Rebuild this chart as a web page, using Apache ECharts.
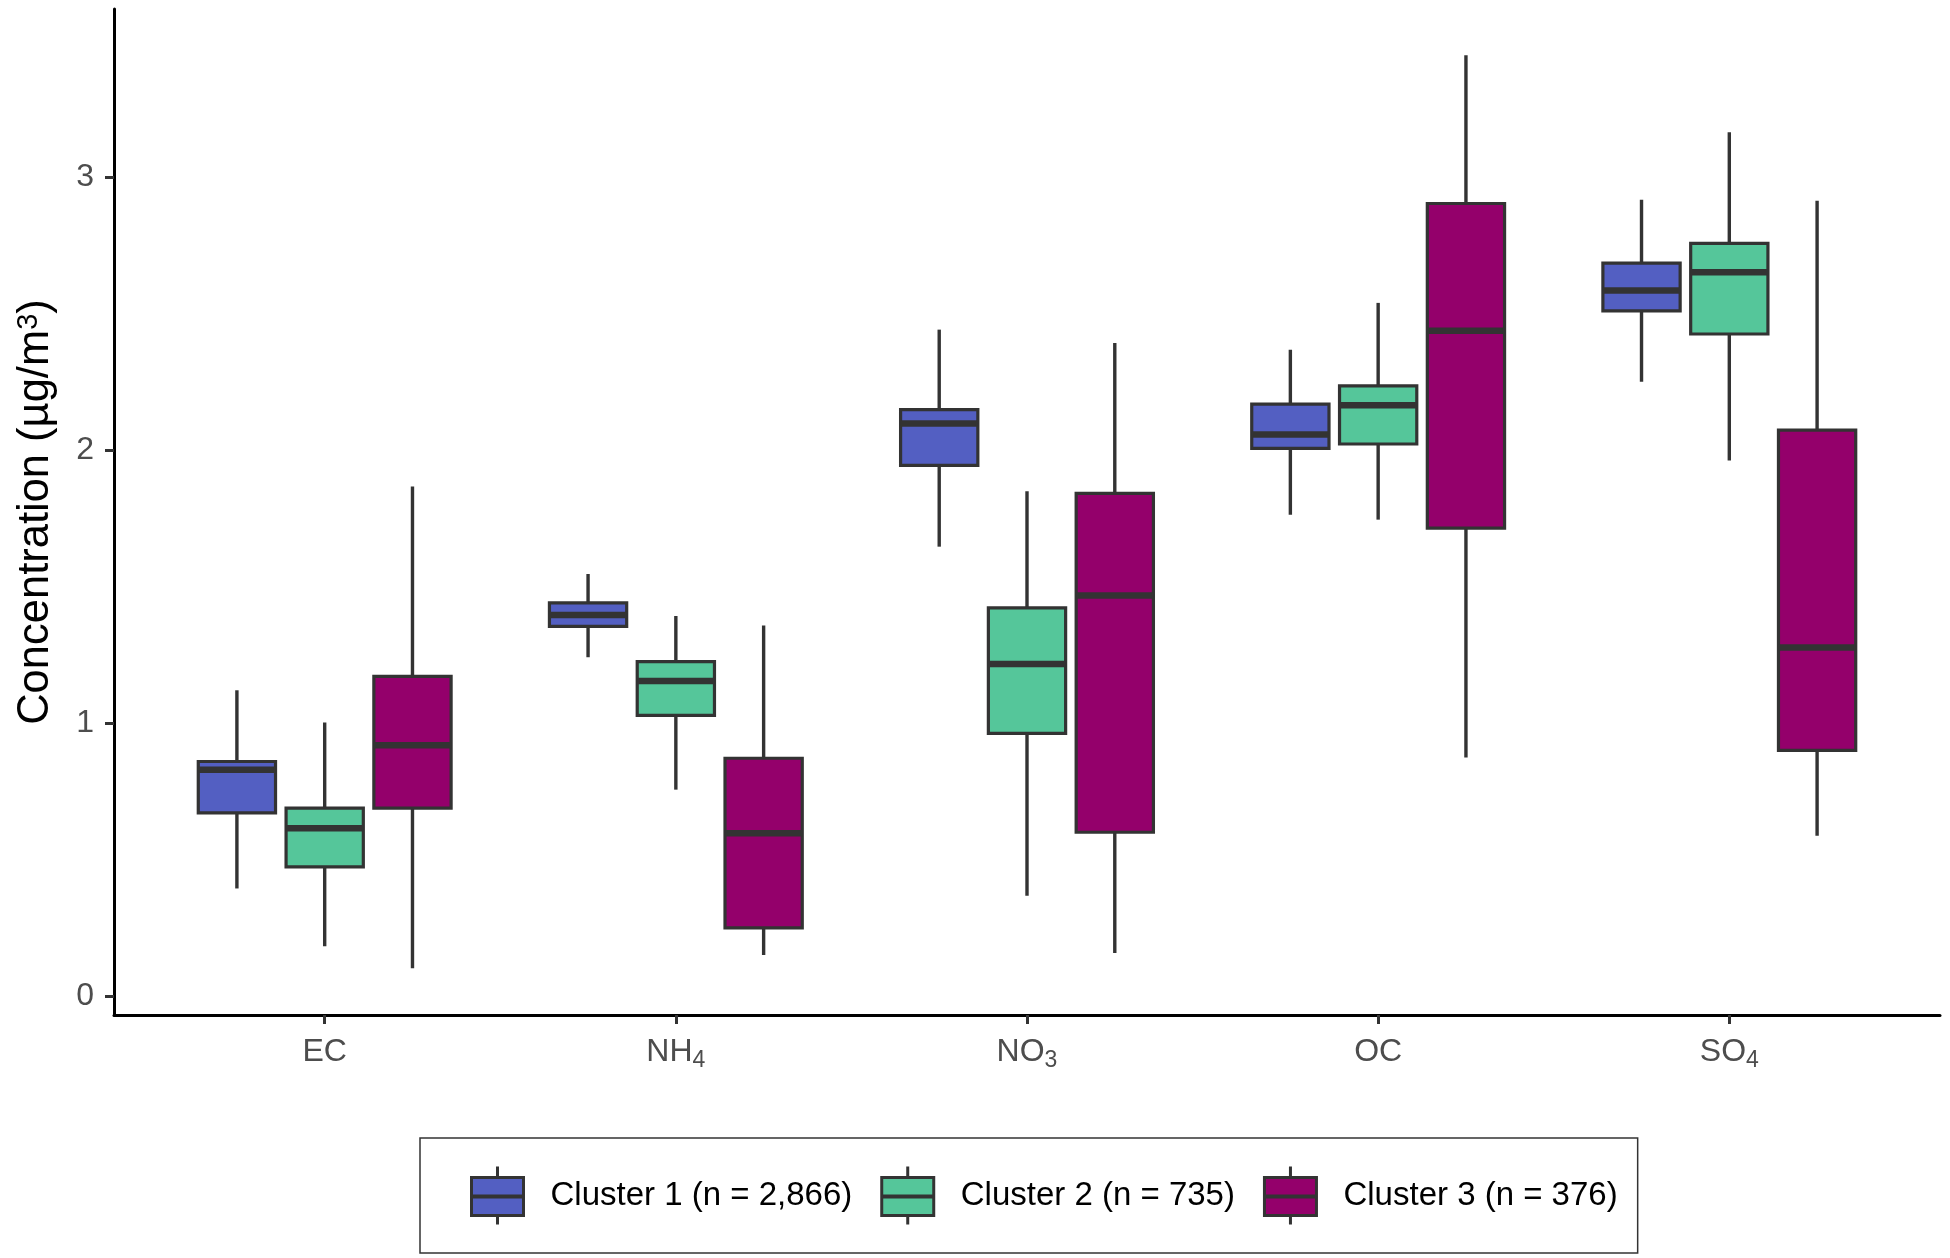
<!DOCTYPE html>
<html>
<head>
<meta charset="utf-8">
<script src="https://cdn.jsdelivr.net/npm/echarts@6/dist/echarts.min.js"></script>
<style>
  html, body { margin: 0; padding: 0; background: #fff; }
  #chart { width: 1950px; height: 1258px; }
</style>
</head>
<body>
<div id="chart"></div>
<script>
// ---- data ----
const categories = ['EC', 'NH4', 'NO3', 'OC', 'SO4'];
const seriesNames = ['Cluster 1 (n = 2,866)', 'Cluster 2 (n = 735)', 'Cluster 3 (n = 376)'];
const yTicks = [0, 1, 2, 3];

// each row: [lower whisker, Q1, median, Q3, upper whisker], one row per category
const cluster1 = [
  [0.396, 0.673, 0.831, 0.861, 1.122],
  [1.243, 1.356, 1.398, 1.442, 1.548],
  [1.648, 1.946, 2.099, 2.150, 2.443],
  [1.765, 2.008, 2.059, 2.170, 2.369],
  [2.252, 2.512, 2.586, 2.687, 2.919]
];
const cluster2 = [
  [0.184, 0.475, 0.617, 0.690, 1.004],
  [0.758, 1.030, 1.156, 1.227, 1.394],
  [0.369, 0.964, 1.218, 1.424, 1.851],
  [1.747, 2.024, 2.166, 2.237, 2.541],
  [1.964, 2.427, 2.653, 2.759, 3.166]
];
const cluster3 = [
  [0.104, 0.690, 0.921, 1.173, 1.868],
  [0.152, 0.252, 0.598, 0.873, 1.359],
  [0.160, 0.602, 1.469, 1.843, 2.394],
  [0.876, 1.716, 2.439, 2.905, 3.448],
  [0.589, 0.902, 1.279, 2.075, 2.915]
];

// ---- styling ----
const colors = ['#535FC2', '#55C69A', '#94006B'];
const FONT = "'Liberation Sans', Arial, Helvetica, sans-serif";
const INK = '#333333';
const DODGE = [-0.25, 0, 0.25];   // offset of each cluster inside a category (axis units)
const BOX_W = 0.22;               // box width (axis units)

const clusters = [cluster1, cluster2, cluster3];

function toRich(name) {
  const m = name.match(/^([A-Za-z]+)(\d*)$/);
  if (m && m[2]) return '{n|' + m[1] + '}{s|' + m[2] + '}';
  return '{n|' + name + '}';
}

function makeRender(idx) {
  return function (params, api) {
    const x = api.value(0);
    const lo = api.coord([x, api.value(1)]);
    const q1 = api.coord([x, api.value(2)]);
    const md = api.coord([x, api.value(3)]);
    const q3 = api.coord([x, api.value(4)]);
    const hi = api.coord([x, api.value(5)]);
    const unit = api.size([1, 0])[0];
    const cx = lo[0] + DODGE[idx] * unit;
    const hw = BOX_W * unit / 2;
    return {
      type: 'group',
      children: [
        { type: 'line', shape: { x1: cx, y1: hi[1], x2: cx, y2: lo[1] },
          style: { stroke: INK, lineWidth: 3.4 } },
        { type: 'rect', shape: { x: cx - hw, y: q3[1], width: 2 * hw, height: q1[1] - q3[1] },
          style: { fill: colors[idx], stroke: INK, lineWidth: 3.2 } },
        { type: 'line', shape: { x1: cx - hw, y1: md[1], x2: cx + hw, y2: md[1] },
          style: { stroke: INK, lineWidth: 6.5 } }
      ]
    };
  };
}

const series = clusters.map(function (rows, idx) {
  return {
    type: 'custom',
    name: seriesNames[idx],
    itemStyle: { color: colors[idx] },
    renderItem: makeRender(idx),
    encode: { x: 0, y: [1, 2, 3, 4, 5] },
    data: rows.map(function (r, i) { return [i + 1].concat(r); }),
    clip: false
  };
});

const chart = echarts.init(document.getElementById('chart'), null, { renderer: 'canvas' });
chart.setOption({
  animation: false,
  backgroundColor: '#ffffff',
  grid: { left: 114, right: 10, top: 9, bottom: 243, containLabel: false, outerBoundsMode: 'none' },
  xAxis: {
    type: 'value',
    min: 0.4,
    max: categories.length + 0.6,
    splitLine: { show: false },
    axisLine: { show: true, onZero: false, lineStyle: { color: '#000', width: 3 } },
    axisTick: { show: true, length: 9, customValues: categories.map(function (c, i) { return i + 1; }),
      lineStyle: { color: INK, width: 3 } },
    axisLabel: {
      customValues: categories.map(function (c, i) { return i + 1; }),
      margin: 17,
      formatter: function (v) { return toRich(categories[Math.round(v) - 1]); },
      rich: {
        n: { fontSize: 32, fontFamily: FONT, color: '#4D4D4D', lineHeight: 40 },
        s: { fontSize: 23, fontFamily: FONT, color: '#4D4D4D', lineHeight: 23, verticalAlign: 'bottom' }
      }
    }
  },
  yAxis: {
    type: 'value',
    min: -0.0675,
    max: 3.6175,
    splitLine: { show: false },
    axisLine: { show: true, onZero: false, lineStyle: { color: '#000', width: 3 } },
    axisTick: { show: true, length: 9, customValues: yTicks, lineStyle: { color: INK, width: 3 } },
    axisLabel: {
      customValues: yTicks,
      margin: 20,
      fontSize: 32,
      fontFamily: FONT,
      color: '#4D4D4D'
    },
    name: 'Concentration (µg/m{sup|3})',
    nameLocation: 'middle',
    nameRotate: 90,
    nameGap: 56,
    nameTextStyle: {
      fontSize: 43.5,
      fontFamily: FONT,
      color: '#000',
      rich: {
        sup: { fontSize: 29, fontFamily: FONT, color: '#000', verticalAlign: 'top', lineHeight: 29, padding: [0, 0, 8, 0] }
      }
    }
  },
  legend: {
    left: 420,
    top: 1138,
    orient: 'horizontal',
    padding: [27, 20, 27, 50],
    itemWidth: 52,
    itemHeight: 58,
    itemGap: 28,
    borderColor: INK,
    borderWidth: 1.5,
    icon: 'path://M26 0L26 11M0 11L52 11L52 49L0 49ZM0 29.5L52 29.5L52 30.5L0 30.5ZM26 49L26 58',
    itemStyle: { borderColor: INK, borderWidth: 3 },
    textStyle: { fontSize: 33, fontFamily: FONT, color: '#000', padding: [12, 0, 0, 22] },
    data: seriesNames
  },
  series: series
});
</script>
</body>
</html>
